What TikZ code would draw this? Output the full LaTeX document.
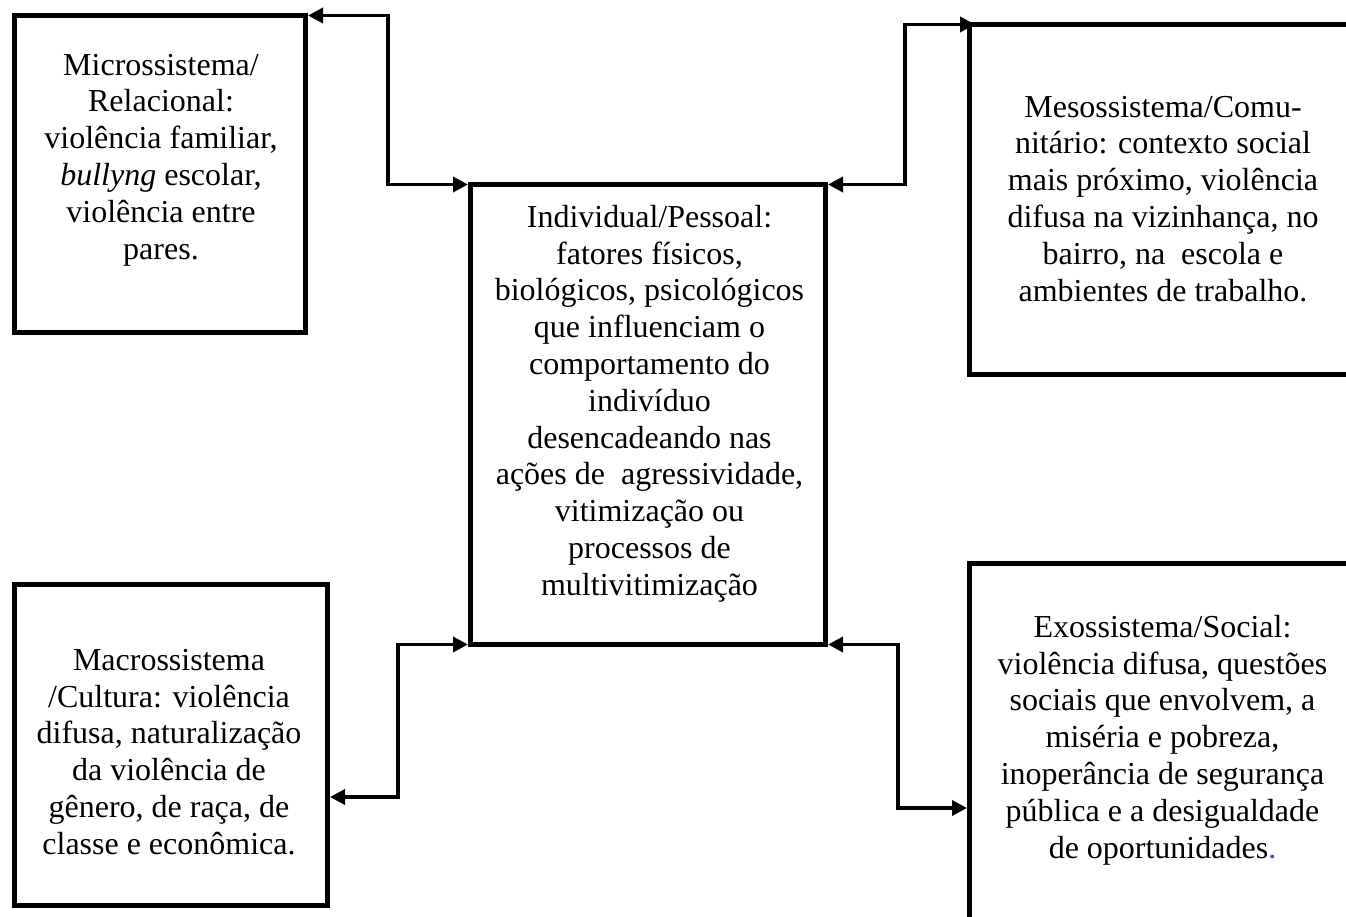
\documentclass[tikz,border=0pt]{standalone}
\usepackage{fontspec}
\setmainfont{Liberation Serif}
\usetikzlibrary{arrows.meta}
\definecolor{dotpurple}{HTML}{7030A0}
\begin{document}
\begin{tikzpicture}[x=1pt,y=-1pt,
  box/.style={draw, line width=5pt, rectangle, inner sep=0pt,
    outer xsep=2.5pt, outer ysep=0pt},
  txt/.style={align=center, inner sep=0pt, anchor=north,
    font=\fontsize{32}{36.8}\selectfont},
  tip/.style={Triangle[length=15pt,width=15pt]},
  conn/.style={line width=3.5pt, {Triangle[length=15pt,width=15pt]}-{Triangle[length=15pt,width=15pt]}}]

  % page area
  \fill[white] (0,0) rectangle (1346,917);
  \clip (0,0) rectangle (1346,917);

  % frames of the five levels
  \node[box, minimum width=291.5pt, minimum height=316.5pt] (micro) at (159.75,173.75) {};
  \node[box, minimum width=355pt, minimum height=460pt] (central) at (648,414.5) {};
  \node[box, minimum width=386.5pt, minimum height=350pt] (meso) at (1162.75,199.5) {};
  \node[box, minimum width=313.5pt, minimum height=321pt] (macro) at (170.75,745) {};
  \node[box, minimum width=386.5pt, minimum height=376.5pt] (exo) at (1162.75,751.75) {};

  % texts
  \node[txt] (microtxt) at (161,49.24) {\strut Microssistema/\\Relacional:\\violência familiar,\\\textit{bullyng} escolar,\\violência entre\\pares.};
  \node[txt] (centraltxt) at (649.5,201.24) {\strut Individual/Pessoal:\\fatores físicos,\\biológicos, psicológicos\\que influenciam o\\comportamento do\\indivíduo\\desencadeando nas\\ações de~ agressividade,\\vitimização ou\\processos de\\multivitimização};
  \node[txt] (mesotxt) at (1163,91.24) {\strut Mesossistema/Comu-\\nitário: contexto social\\mais próximo, violência\\difusa na vizinhança, no\\bairro, na~ escola e\\ambientes de trabalho.};
  \node[txt] (macrotxt) at (169,644.24) {\strut Macrossistema\\/Cultura: violência\\difusa, naturalização\\da violência de\\gênero, de raça, de\\classe e econômica.};
  \node[txt] (exotxt) at (1162.5,611.24) {\strut Exossistema/Social:\\violência difusa, questões\\sociais que envolvem, a\\miséria e pobreza,\\inoperância de segurança\\pública e a desigualdade\\de oportunidades{\color{dotpurple}.}};

  % connectors
  \coordinate (macroy) at (0,797);
  \coordinate (exoy) at (0,808);
  \draw[conn] (micro.north east) -- ++(80,0) |- (central.north west);
  \draw[conn] (central.north east) -- ++(77,0) |- ([xshift=8pt]meso.north west);
  \draw[conn] (central.south west) -- ++(-70,0) |- (macro.east |- macroy);
  \draw[conn] (central.south east) -- ++(70,0) |- (exo.west |- exoy);
\end{tikzpicture}
\end{document}
